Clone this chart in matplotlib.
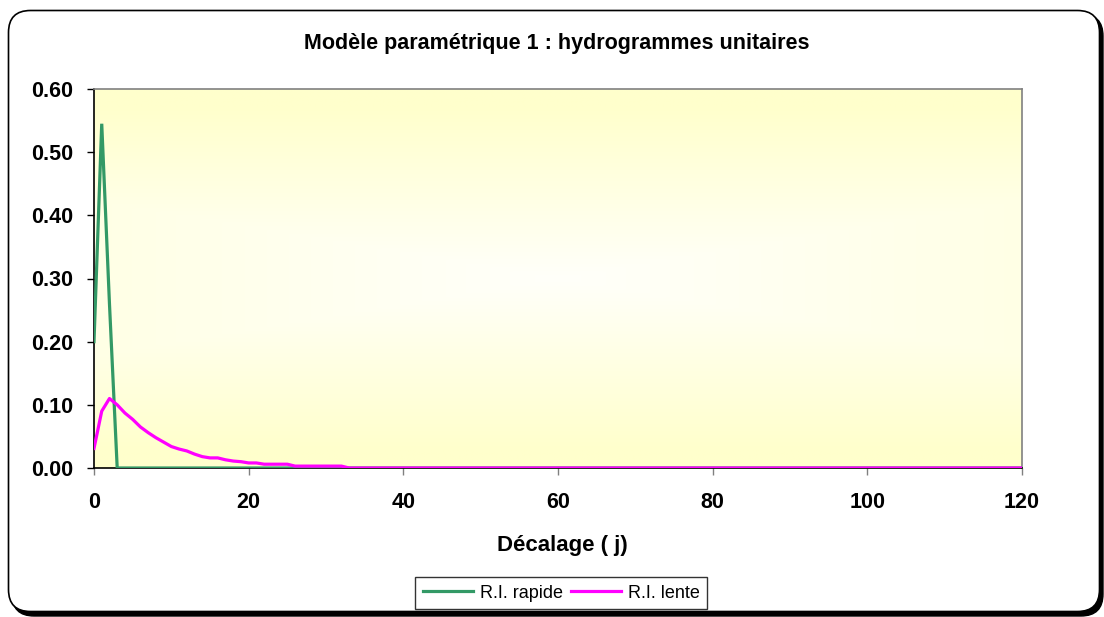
import numpy as np
import matplotlib
matplotlib.use("Agg")
import matplotlib.pyplot as plt
from matplotlib.patches import FancyBboxPatch
from matplotlib.transforms import IdentityTransform
from matplotlib.colors import LinearSegmentedColormap

plt.rcParams['font.family'] = ['Liberation Sans', 'DejaVu Sans']

# Lag in days
decalage = list(range(0, 121))

# Unit hydrograph of the fast response
ri_rapide = [0.20, 0.545, 0.26] + [0.0] * 118

# Unit hydrograph of the slow response
ri_lente = [0.031, 0.090, 0.110, 0.100, 0.087, 0.077, 0.065, 0.056, 0.048,
            0.041, 0.034, 0.030, 0.027, 0.022, 0.018, 0.016, 0.016, 0.013,
            0.011, 0.010, 0.008, 0.008, 0.006, 0.006, 0.006, 0.006, 0.003,
            0.003, 0.003, 0.003, 0.003, 0.003, 0.003] + [0.0] * 88

yticks = [0.0, 0.1, 0.2, 0.3, 0.4, 0.5, 0.6]
xticks = [0, 20, 40, 60, 80, 100, 120]

W, H = 1104, 617
fig = plt.figure(figsize=(W / 100, H / 100), dpi=100)
fig.patch.set_facecolor('white')

# Rounded chart frame with a drop shadow
shadow = FancyBboxPatch((12, 1), 1091, 602, boxstyle="round,pad=0,rounding_size=22",
                        transform=IdentityTransform(), facecolor='black',
                        edgecolor='black', lw=1, zorder=0)
frame = FancyBboxPatch((8.5, 5.5), 1091, 601, boxstyle="round,pad=0,rounding_size=22",
                       transform=IdentityTransform(), facecolor='white',
                       edgecolor='black', lw=1.2, zorder=1)
fig.patches.extend([shadow, frame])

left, right, top, bottom = 94, 1022, 89, 468
ax = fig.add_axes([left / W, 1 - bottom / H, (right - left) / W, (bottom - top) / H])
ax.set_zorder(2)

# Yellow-to-white gradient, white in the middle, yellow towards the edges
gx = np.linspace(-1, 1, 400)
gy = np.linspace(-1, 1, 200)
GX, GY = np.meshgrid(gx, gy)
t = np.clip(np.maximum(np.abs(GY) * 1.1, 0.45 * np.abs(GX)), 0, 1)
cmap = LinearSegmentedColormap.from_list('fond', ['#FFFFFA', '#FFFFCC'])
ax.imshow(t, cmap=cmap, vmin=0, vmax=1, extent=[0, 1, 0, 1], transform=ax.transAxes,
          aspect='auto', zorder=0, interpolation='bilinear')

ax.plot(decalage, ri_rapide, color='#339966', lw=2.3, label='R.I. rapide', zorder=3,
        solid_joinstyle='miter')
ax.plot(decalage, ri_lente, color='#FF00FF', lw=2.3, label='R.I. lente', zorder=4)

ax.set_xlim(0, 120)
ax.set_ylim(0, 0.6)
ax.set_xticks(xticks)
ax.set_yticks(yticks)
ax.set_yticklabels([f"{v:.2f}" for v in yticks])
ax.set_xticklabels([str(v) for v in xticks])

for lab in ax.get_xticklabels() + ax.get_yticklabels():
    lab.set_fontweight('bold')
    lab.set_fontsize(15.5)

ax.tick_params(axis='y', direction='out', length=5, width=1, color='black', pad=10)
ax.tick_params(axis='x', direction='out', length=5, width=1, color='#808080', pad=12)

for s in ['top', 'right']:
    ax.spines[s].set_color('#808080')
    ax.spines[s].set_linewidth(1.2)
for s in ['left', 'bottom']:
    ax.spines[s].set_color('black')
    ax.spines[s].set_linewidth(1.2)

fig.text(557 / W, 1 - 44 / H, "Modèle paramétrique 1 : hydrogrammes unitaires",
         ha='center', va='center', fontsize=15.5, fontweight='bold')
fig.text(562 / W, 1 - 545 / H, "Décalage ( j)", ha='center', va='center',
         fontsize=16, fontweight='bold')

leg = fig.legend(loc='center', bbox_to_anchor=(561 / W, 1 - 593 / H), ncol=2,
                 frameon=True, fancybox=False, edgecolor='black', fontsize=13,
                 handlelength=2.8, handletextpad=0.35, columnspacing=0.45,
                 borderpad=0.4, borderaxespad=0)
leg.get_frame().set_linewidth(1.0)

fig.savefig('out.png', dpi=100)
